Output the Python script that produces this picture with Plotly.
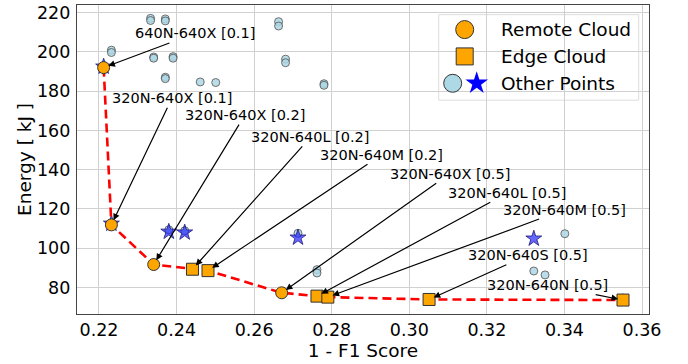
import plotly.graph_objects as go

# ---------------- data ----------------
remote_x = [0.2212, 0.2232, 0.2341, 0.2671]
remote_y = [192.0, 111.9, 91.7, 77.3]

edge_x = [0.2441, 0.2481, 0.2762, 0.2790, 0.3051, 0.3551]
edge_y = [89.3, 88.6, 75.6, 75.1, 73.9, 73.6]

other_circle_x = [0.2333, 0.2333, 0.2371, 0.2371, 0.2232, 0.2232, 0.2341, 0.2341,
                  0.2391, 0.2391, 0.2371, 0.2371, 0.2461, 0.2501, 0.2663, 0.2663,
                  0.2681, 0.2681, 0.2780, 0.2780, 0.2380, 0.2421, 0.2713, 0.2762,
                  0.2762, 0.3401, 0.3321, 0.3350, 0.3551]
other_circle_y = [217.1, 216.0, 216.8, 215.8, 200.9, 199.7, 197.4, 196.8,
                  197.6, 196.8, 187.1, 186.4, 184.7, 184.4, 215.4, 213.2,
                  196.3, 194.5, 183.8, 183.0, 109.4, 108.9, 107.6, 89.1,
                  87.4, 107.4, 88.4, 86.4, 74.6]

other_star_x = [0.2212, 0.2232, 0.2380, 0.2421, 0.2713, 0.3321]
other_star_y = [192.5, 112.5, 108.4, 108.0, 105.4, 104.9]

label_text = ["640N-640X [0.1]", "320N-640X [0.1]", "320N-640X [0.2]", "320N-640L [0.2]",
              "320N-640M [0.2]", "320N-640X [0.5]", "320N-640L [0.5]", "320N-640M [0.5]",
              "320N-640S [0.5]", "320N-640N [0.5]"]
label_target_x = [0.2212, 0.2232, 0.2341, 0.2441, 0.2481, 0.2671, 0.2762, 0.2790, 0.3051, 0.3551]
label_target_y = [192.0, 111.9, 91.7, 89.3, 88.6, 77.3, 75.6, 75.1, 73.9, 73.6]
label_text_x = [0.2447, 0.2388, 0.2576, 0.2746, 0.2929, 0.3104, 0.3254, 0.3401, 0.3305, 0.3357]
label_text_y = [209.4, 176.4, 167.8, 156.7, 147.6, 137.9, 128.3, 119.7, 96.4, 81.2]

legend_names = ["Remote Cloud", "Edge Cloud", "Other Points"]

x_ticks = [0.22, 0.24, 0.26, 0.28, 0.30, 0.32, 0.34, 0.36]
y_ticks = [80, 100, 120, 140, 160, 180, 200, 220]

FONT = "DejaVu Sans"
ORANGE = "#ffa500"
LIGHTBLUE = "#add8e6"

# pareto front: all cloud points sorted by x
pareto = sorted(zip(remote_x + edge_x, remote_y + edge_y))
pareto_x = [p[0] for p in pareto]
pareto_y = [p[1] for p in pareto]

fig = go.Figure()

fig.add_trace(go.Scatter(
    x=other_circle_x, y=other_circle_y, mode="markers",
    marker=dict(symbol="circle", size=8, color=LIGHTBLUE, opacity=0.85,
                line=dict(color="#555555", width=1)),
    showlegend=False))

fig.add_trace(go.Scatter(
    x=other_star_x, y=other_star_y, mode="markers",
    marker=dict(symbol="star", size=12, color="rgba(30,30,255,0.68)",
                line=dict(color="#1a1a7a", width=0.8)),
    showlegend=False))

fig.add_trace(go.Scatter(
    x=pareto_x, y=pareto_y, mode="lines",
    line=dict(color="red", width=2.6, dash="9px,5px"),
    showlegend=False))

fig.add_trace(go.Scatter(
    x=remote_x, y=remote_y, mode="markers",
    marker=dict(symbol="circle", size=12, color=ORANGE,
                line=dict(color="#333333", width=1)),
    showlegend=False))

fig.add_trace(go.Scatter(
    x=edge_x, y=edge_y, mode="markers",
    marker=dict(symbol="square", size=12, color=ORANGE,
                line=dict(color="#333333", width=1)),
    showlegend=False))

# ---------- custom legend (glyphs on an overlay 0..1 axis) ----------
leg_box = dict(x0=0.6324, x1=0.982, y0=0.692, y1=0.9688)
leg_rows_y = [0.9205, 0.8336, 0.7467]
leg_glyph_x = 0.6778
leg_text_x = 0.7372

fig.add_shape(type="rect", xref="paper", yref="paper",
              x0=leg_box["x0"], x1=leg_box["x1"], y0=leg_box["y0"], y1=leg_box["y1"],
              fillcolor="rgba(255,255,255,0.9)", line=dict(color="#dddddd", width=1),
              layer="between")

fig.add_trace(go.Scatter(
    x=[leg_glyph_x], y=[leg_rows_y[0]], xaxis="x2", yaxis="y2", mode="markers",
    marker=dict(symbol="circle", size=18, color=ORANGE, line=dict(color="#333333", width=1)),
    showlegend=False, hoverinfo="skip"))
fig.add_trace(go.Scatter(
    x=[leg_glyph_x], y=[leg_rows_y[1]], xaxis="x2", yaxis="y2", mode="markers",
    marker=dict(symbol="square", size=17, color=ORANGE, line=dict(color="#333333", width=1)),
    showlegend=False, hoverinfo="skip"))
fig.add_trace(go.Scatter(
    x=[leg_glyph_x - 0.021], y=[leg_rows_y[2]], xaxis="x2", yaxis="y2", mode="markers",
    marker=dict(symbol="circle", size=18, color=LIGHTBLUE, line=dict(color="#333333", width=1)),
    showlegend=False, hoverinfo="skip"))
fig.add_trace(go.Scatter(
    x=[leg_glyph_x + 0.021], y=[leg_rows_y[2]], xaxis="x2", yaxis="y2", mode="markers",
    marker=dict(symbol="star", size=17, color="blue", line=dict(color="blue", width=0)),
    showlegend=False, hoverinfo="skip"))

annotations = []
for name, ry in zip(legend_names, leg_rows_y):
    annotations.append(dict(x=leg_text_x, y=ry, xref="paper", yref="paper", text=name,
                            showarrow=False, xanchor="left", yanchor="middle",
                            font=dict(family=FONT, size=18.5, color="black")))

for t, tx, ty, px, py in zip(label_text, label_text_x, label_text_y, label_target_x, label_target_y):
    annotations.append(dict(x=px, y=py, xref="x", yref="y", axref="x", ayref="y",
                            ax=tx, ay=ty, text=t, showarrow=True,
                            arrowhead=2, arrowsize=1.1, arrowwidth=1.2, arrowcolor="black",
                            standoff=5, font=dict(family=FONT, size=14.5, color="black")))

fig.update_layout(
    width=688, height=364,
    margin=dict(l=77, r=39, t=3, b=50),
    paper_bgcolor="white", plot_bgcolor="white",
    font=dict(family=FONT, color="black"),
    showlegend=False,
    annotations=annotations,
    xaxis=dict(range=[0.21433, 0.3618], tickvals=x_ticks,
               ticktext=[f"{v:.2f}" for v in x_ticks],
               showgrid=True, gridcolor="#d0d0d0", gridwidth=1,
               showline=True, linecolor="#444444", linewidth=1.2, mirror=True,
               ticks="", zeroline=False,
               tickfont=dict(family=FONT, size=17.5),
               title=dict(text="1 - F1 Score", font=dict(family=FONT, size=18.5), standoff=2)),
    yaxis=dict(range=[66.5, 223.9], tickvals=y_ticks,
               showgrid=True, gridcolor="#d0d0d0", gridwidth=1,
               showline=True, linecolor="#444444", linewidth=1.2, mirror=True,
               ticks="outside", ticklen=2, tickcolor="rgba(0,0,0,0)", zeroline=False,
               tickfont=dict(family=FONT, size=17.5),
               title=dict(text="Energy [ kJ ]", font=dict(family=FONT, size=18.5), standoff=0)),
    xaxis2=dict(range=[0, 1], overlaying="x", visible=False, fixedrange=True),
    yaxis2=dict(range=[0, 1], overlaying="y", visible=False, fixedrange=True),
)

fig.write_html("out.html")
